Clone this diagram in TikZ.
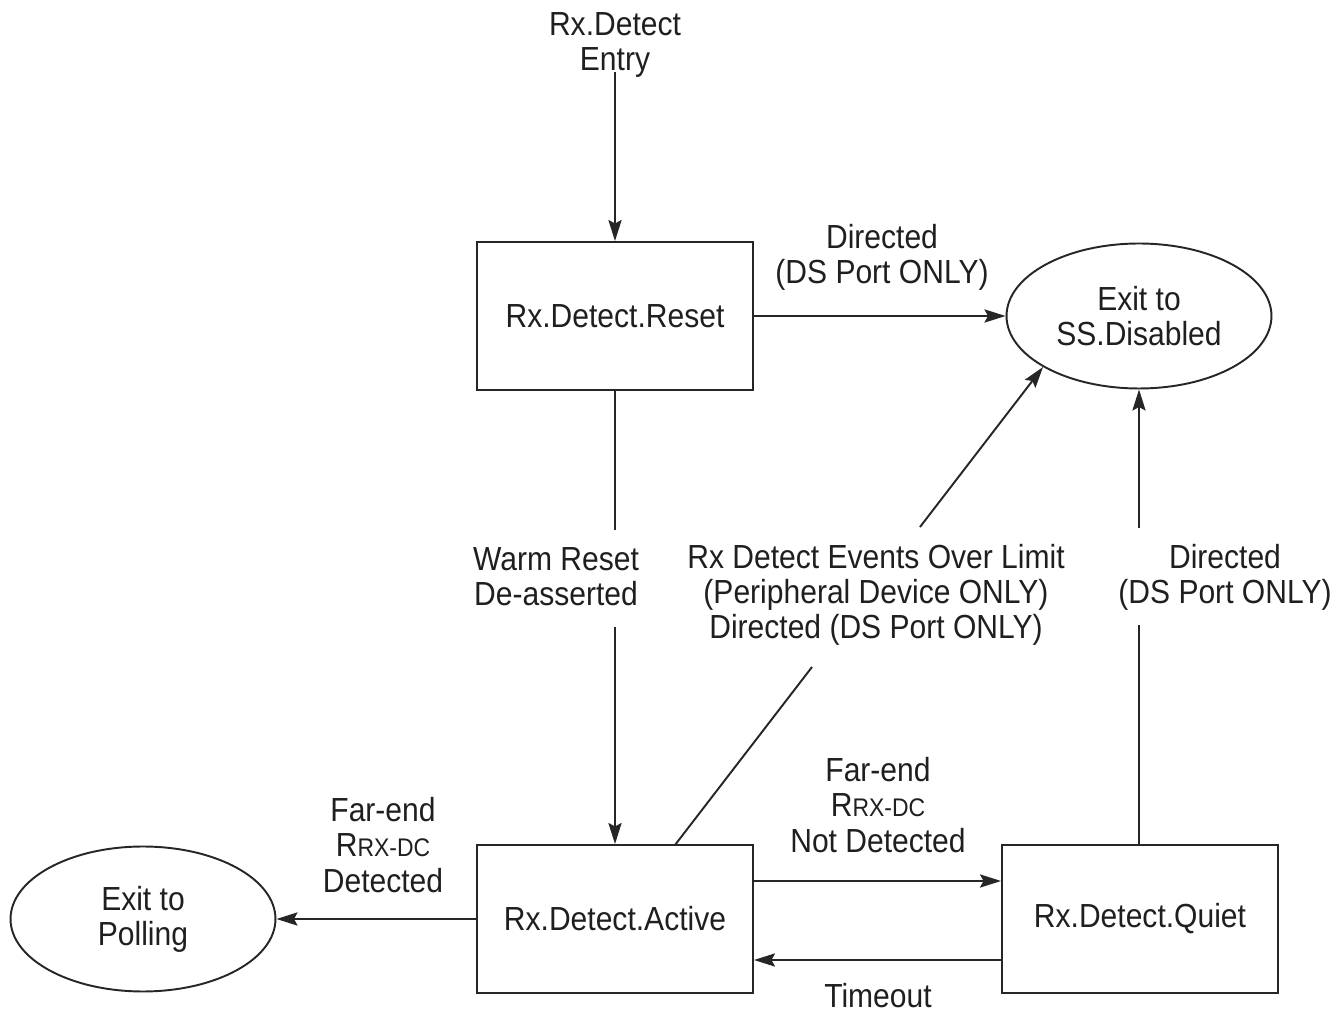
\documentclass[tikz,border=0pt]{standalone}
\usepackage{fontspec}
\setmainfont{Liberation Sans}[FakeStretch=0.9]
\usetikzlibrary{arrows.meta,shapes.geometric}

\newcommand{\rrxdc}{R{\fontsize{14.5}{16}\selectfont RX-DC}}

\tikzset{
  state/.style={draw, minimum width=5.52cm, minimum height=2.96cm, inner sep=0pt},
  exitst/.style={ellipse, draw, minimum width=5.3cm, minimum height=2.9cm, inner sep=0pt, align=center},
  lbl/.style={align=center, inner sep=0pt}
}

\begin{document}
\begin{tikzpicture}[x=0.02cm,y=-0.02cm,>={Stealth[length=12pt,width=7.5pt,inset=2pt]},
    line width=1.1pt, draw=black!85, text=black!88,
    font=\fontsize{19}{20}\selectfont]
    \useasboundingbox (0,0) rectangle (1333,1016);
    % states
    \node[lbl] (entry) at (615,45) {Rx.Detect\\Entry};
    \node[state] (reset) at (615,316) {Rx.Detect.Reset};
    \node[state] (active) at (615,919) {Rx.Detect.Active};
    \node[state] (quiet) at (1140,919) {Rx.Detect.Quiet};
    \node[exitst] (ssdis) at (1139,316) {Exit to\\SS.Disabled};
    \node[exitst] (polling) at (143,919) {Exit to\\Polling};
    % labels
    \node[lbl] (dirlbl) at (882,257) {Directed\\(DS Port ONLY)};
    \node[lbl] (warmlbl) at (556,577) {Warm Reset\\De-asserted};
    \node[lbl] (eventlbl) at (876,595) {Rx Detect Events Over Limit\\(Peripheral Device ONLY)\\Directed (DS Port ONLY)};
    \node[lbl] (dir2lbl) at (1225,577) {Directed\\(DS Port ONLY)};
    \node[lbl] (farlbl) at (383,845) {Far-end\\\rrxdc\\Detected};
    \node[lbl] (notlbl) at (878,805) {Far-end\\\rrxdc\\Not Detected};
    \node[lbl] (timelbl) at (878,996) {Timeout};
    % breaks in the lines
    \coordinate (w1) at (615,530);
    \coordinate (w2) at (615,627);
    \coordinate (d0) at (675,845);
    \coordinate (d1) at (812,667);
    \coordinate (d2) at (920,527);
    \coordinate (q1) at (1139,625);
    \coordinate (q2) at (1139,528);

    \draw[->] (entry.south) ++(0,-6) -- (reset.north);
    \draw[->] (reset) -- (ssdis);
    \draw (reset.south) -- (w1);
    \draw[->] (w2) -- (active.north);
    \draw[->] (active) -- (polling);
    \draw[->] (active.east |- 0,881) -- (quiet.west |- 0,881);
    \draw[->] (quiet.west |- 0,960) -- (active.east |- 0,960);
    \draw (d0) -- (d1);
    \draw[->] (d2) -- (ssdis.208);
    \draw (quiet.north -| q1) -- (q1);
    \draw[->] (q2) -- (q2 |- ssdis.south);
\end{tikzpicture}
\end{document}
